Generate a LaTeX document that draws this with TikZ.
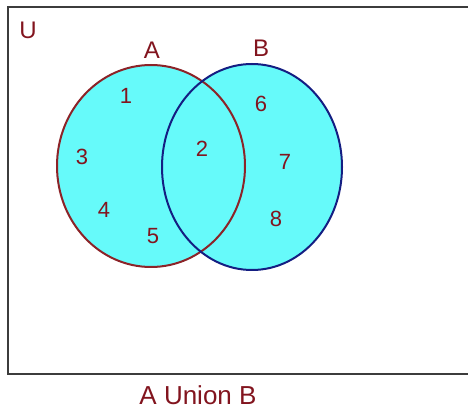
\documentclass[tikz,border=0pt]{standalone}
\usepackage{fontspec}
\setmainfont{Liberation Sans}
\usepackage{tikz}
\usetikzlibrary{positioning}
\usetikzlibrary{calc}

\definecolor{setfill}{RGB}{102,250,250}
\definecolor{setA}{RGB}{140,35,40}
\definecolor{setB}{RGB}{20,30,130}
\definecolor{labelred}{RGB}{130,20,30}
\definecolor{frame}{RGB}{60,60,60}

\begin{document}
\begin{tikzpicture}[
  x=1pt, y=-1pt,
  every node/.style={font=\fontsize{24}{28}\selectfont, text=labelred, inner sep=0pt},
  region/.style={fill=setfill, draw=none},
  rimA/.style={draw=setA, line width=2pt},
  rimB/.style={draw=setB, line width=2pt},
  universe/.style={draw=frame, line width=2.4pt},
  elem/.style={font=\fontsize{22}{26}\selectfont}
]
\useasboundingbox (0,0) rectangle (468,411);

% ---------- Universe ----------
\draw[universe] (468,7) -- (8,7) -- (8,374) -- (468,374);
\node (u) at (28,30) {U};

% ---------- Sets ----------
\coordinate (ca) at (151,166);
\coordinate (cb) at (252,167);
\fill[region] (ca) ellipse [x radius=94, y radius=101];
\fill[region] (cb) ellipse [x radius=90, y radius=103];
\draw[rimA] (ca) ellipse [x radius=94, y radius=101];
\draw[rimB] (cb) ellipse [x radius=90, y radius=103];

\node (la) at (152,50) {A};
\node (lb) at (261,48) {B};

% ---------- Elements ----------
\node[elem] (e1) at (126,96) {1};
\node[elem] (e3) at (82,157) {3};
\node[elem] (e4) at (104,210) {4};
\node[elem] (e5) at (153,236) {5};
\node[elem] (e2) at (202,149) {2};
\node[elem] (e6) at (261,104) {6};
\node[elem] (e7) at (285,162) {7};
\node[elem] (e8) at (276,219) {8};

% ---------- Caption ----------
\node[font=\fontsize{26}{30}\selectfont] (cap) at (198,395) {A Union B};

\end{tikzpicture}
\end{document}
